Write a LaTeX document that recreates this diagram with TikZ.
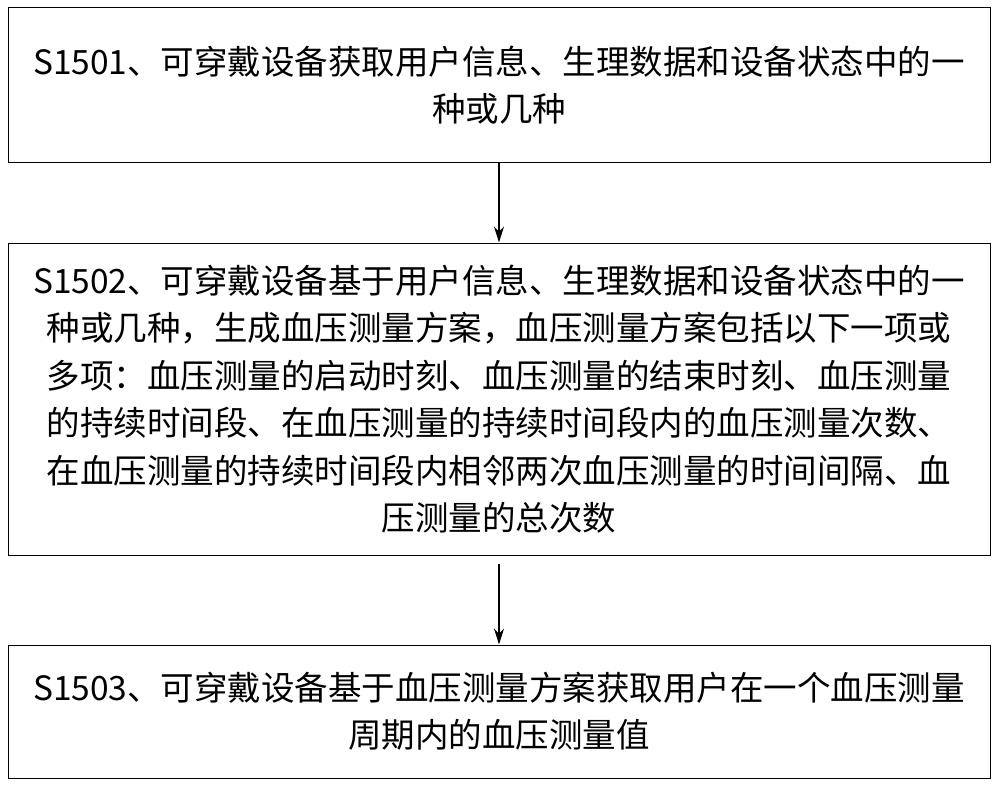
\documentclass[tikz,border=0pt]{standalone}
\usepackage{fontspec}
\setmainfont{Noto Sans CJK SC}
\usetikzlibrary{arrows.meta}
\begin{document}
\begin{tikzpicture}[x=1pt,y=-1pt,
  stepbox/.style={draw, line width=1pt, minimum width=982pt, inner sep=0pt, align=center,
    font=\fontsize{33.5}{47.5}\selectfont},
  flow/.style={-{Stealth[length=16pt,width=10pt]}, line width=1.3pt}]
\useasboundingbox (0,0) rectangle (1000,789);
\node[stepbox, minimum height=154pt] (S1) at (499,85) {S1501、可穿戴设备获取用户信息、生理数据和设备状态中的一\\种或几种};
\node[stepbox, minimum height=312pt] (S2) at (499,399) {S1502、可穿戴设备基于用户信息、生理数据和设备状态中的一\\种或几种，生成血压测量方案，血压测量方案包括以下一项或\\多项：血压测量的启动时刻、血压测量的结束时刻、血压测量\\的持续时间段、在血压测量的持续时间段内的血压测量次数、\\在血压测量的持续时间段内相邻两次血压测量的时间间隔、血\\压测量的总次数};
\node[stepbox, minimum height=133pt] (S3) at (499,711.5) {S1503、可穿戴设备基于血压测量方案获取用户在一个血压测量\\周期内的血压测量值};
\draw[flow] (S1) -- (S2);
\draw[flow] (S2.south) ++(0,8) coordinate (a) (a) -- (S3);
\end{tikzpicture}
\end{document}
